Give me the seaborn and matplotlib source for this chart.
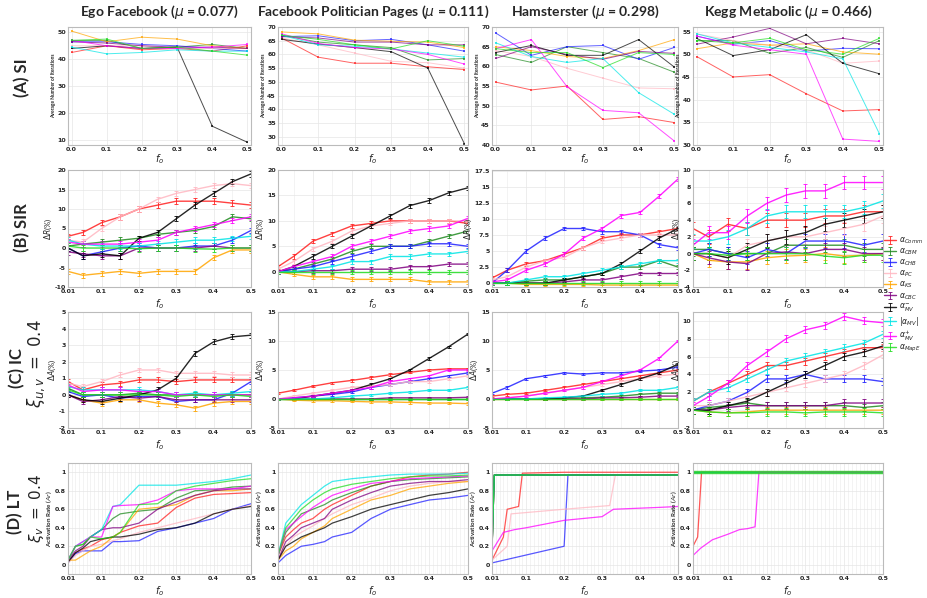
import numpy as np
import pandas as pd
import seaborn as sns
import matplotlib.pyplot as plt
from matplotlib.ticker import MultipleLocator, FuncFormatter

methods = [r"$\alpha_{Comm}$", r"$\alpha_{CBM}$", r"$\alpha_{CHB}$", r"$\alpha_{PC}$", r"$\alpha_{KS}$",
           r"$\alpha_{CBC}$", r"$\alpha_{MV}^{-}$", r"$|\alpha_{MV}|$", r"$\alpha_{MV}^{+}$", r"$\alpha_{MapE}$"]
colors = ["#ff2020", "#1f8a1f", "#2020ff", "#ffb6c1", "#ffa500",
          "#800080", "#000000", "#00e5e5", "#ff00ff", "#22dd22"]
datasets = ["Ego Facebook ($\\mu$ = 0.077)", "Facebook Politician Pages ($\\mu$ = 0.111)",
            "Hamsterster ($\\mu$ = 0.298)", "Kegg Metabolic ($\\mu$ = 0.466)"]

# (A) SI : average number of iterations, order = methods
si_x = [0.0, 0.1, 0.2, 0.3, 0.4, 0.5]
si_ego = [[42.5, 45, 43.5, 44, 43, 45], [47, 47, 44, 44.5, 45.5, 44], [46.5, 46.5, 45.5, 45, 44, 43],
          [45, 45, 45, 44, 44, 44], [50.5, 46.5, 48.2, 47.5, 45, 44], [46.5, 46, 45, 44.5, 44.5, 44],
          [44, 45, 44, 44.5, 15, 9], [44.5, 42, 42.5, 43.5, 43, 43], [47, 45, 44, 44, 44.5, 45.5],
          [47, 47.5, 44, 44.5, 43, 41.5]]
si_fpp = [[66, 59, 56.8, 56.8, 55.5, 54.5], [67, 64.5, 63.5, 62.5, 58, 58.5], [66.5, 66.8, 65, 65.5, 63.5, 61.2],
          [66, 63.5, 60.5, 57.5, 57, 55], [68.2, 67.5, 65.2, 64.8, 64.5, 62.5], [66.5, 66, 64.5, 64.5, 63.5, 63.5],
          [65.5, 63.8, 62.5, 61, 55, 27.5], [67, 63.5, 63, 62, 60.5, 59], [67.5, 64, 62.5, 62, 60, 56.5],
          [67, 65.5, 63.5, 62, 65, 63]]
si_ham = [[56, 54, 55, 46.5, 47.2, 45.7], [63, 61, 65, 63.5, 62, 58.5], [68.5, 62.8, 65, 65.3, 61.8, 64.8],
          [64, 62.5, 59.5, 57, 54.5, 54.3], [65, 64, 62.5, 62, 64, 66.8], [62, 65, 63, 61.8, 63.8, 63.3],
          [63.5, 65.3, 62.8, 62.8, 66.8, 59.8], [66, 62.5, 61, 62, 53.3, 47.8], [64.5, 66.8, 54.8, 48.8, 48.2, 41],
          [64.5, 63.5, 63.5, 59.7, 63.5, 63]]
si_kegg = [[49.5, 45, 45.5, 41.3, 37.5, 37.8], [53, 53, 50.2, 51.5, 49.3, 53], [54, 52.2, 53, 50.7, 51.3, 51.2],
           [54.5, 53, 52, 51, 48, 48.5], [51.2, 52.5, 52, 52.3, 50.5, 50], [52.2, 53.8, 55.7, 52.3, 53.5, 52.3],
           [53.5, 49.7, 51, 54.3, 48, 45.7], [54.5, 52.5, 51.5, 50.5, 49, 32.5], [54, 52, 51, 50, 31.3, 30.8],
           [53, 52.5, 53.5, 51, 50, 53.5]]

# (B) SIR and (C) IC : gain in percent
f0 = [0.01, 0.05, 0.1, 0.15, 0.2, 0.25, 0.3, 0.35, 0.4, 0.45, 0.5]
sir_ego = [[3, 4, 6.5, 8, 10, 11, 12, 12, 12, 11.5, 11], [0.5, 1, 1.5, 2, 2.5, 3.5, 4, 4.5, 5.5, 8, 7.5],
           [0, -2, -1, 0, 0.5, 0, 0, 0.5, 0.5, 2, 4.5], [2, 1.5, 5, 8, 10, 12.5, 14, 15, 16, 16.5, 16],
           [-6, -7, -6.5, -6, -6.5, -6, -6, -6, -2.5, -0.5, -0.5], [-1, -1.5, -2, -2, 0, 0, 0, 0, 0.5, 0, 0],
           [0, -2, -1.5, -2, 2.5, 4, 7.5, 11, 14, 17, 19], [2, 1, 0.5, 0.5, 0.5, 1, 1.5, 2, 2, 2.5, 3],
           [1.5, 1, 1, 1, 1.5, 2, 4, 5, 6, 7, 8], [0.5, 0, 0, 0, -0.2, 0, 0, -0.2, -0.3, 0, 0]]
sir_fpp = [[1, 3, 6, 7.5, 9, 9.5, 10, 10, 10, 10, 9.5], [0, 0.5, 1.5, 2.5, 4, 5, 5, 5, 6, 7, 8],
           [0, 0.5, 1, 2, 3, 4, 5, 5, 5.5, 5.5, 5], [0.5, 2, 4.5, 6, 8, 9, 9.5, 10, 10, 10, 10],
           [0, -0.5, -1, -1, -1.5, -1.5, -1.5, -1.5, -2, -2, -2], [0, 0, 0.2, 0.2, 0.5, 0.5, 0.5, 1, 1, 1.5, 1.5],
           [0, 1, 3, 5, 7, 9, 11, 13, 14, 15.5, 16.5], [0, 0, 0.5, 1, 2, 2, 3, 3, 3.5, 3.5, 4],
           [0, 1, 2, 3, 5, 6, 7, 8, 8.5, 9, 10.5], [0, 0, 0, 0, 0, 0, 0, 0, 0, 0, 0]]
sir_ham = [[0.8, 2, 3, 3.5, 4.5, 5.5, 7, 7.5, 7.5, 8, 8.5], [0, 0, 0.3, 0.5, 0.5, 1, 1.5, 2.5, 2.5, 3.5, 2.5],
           [0, 2, 5, 7, 8.5, 8.5, 8, 8, 7.5, 6, 5.5], [0.5, 1, 2.5, 3.5, 4, 5.5, 6.5, 7, 7.5, 7.5, 7.5],
           [0, 0, -0.2, -0.2, -0.2, -0.2, -0.3, -0.3, -0.3, -0.3, -0.3], [0, 0, 0, 0, 0.2, 0.5, 0.5, 1, 1.5, 1.5, 1.5],
           [0, 0, 0, 0, 0.5, 1, 1.5, 3, 5, 7, 8.5], [0, 0, 0.5, 1, 1, 1.5, 2, 2.5, 3, 3.5, 3.5],
           [0.2, 0.5, 2, 3, 4.5, 7, 8.5, 10.5, 11, 13.5, 16.2], [0, 0, 0, 0, 0, 0, 0, 0, 0, 0, 0]]
sir_kegg = [[3, 2, 3.5, 3, 4, 4, 4, 4.5, 4.5, 5, 5], [0.5, 0.5, 0, 0, 0, 1, 1, 1, 1, 0.5, 0.5],
            [0, 0.5, 0, -0.5, 0.5, 0, 1.5, 1.5, 1.5, 1, 1.5], [0, 0, -0.5, 1, 1.5, 2, 2, 2.5, 3, 3.5, 4.5],
            [0, -0.8, -1, -1, -0.5, -0.3, -0.2, 0, -0.3, -0.2, 0], [0, -0.5, -1, -1.2, 0, 0.2, 0, 0.5, 0.5, 0, 0],
            [0, 0, -0.5, 0.5, 1.5, 2, 2.5, 3.5, 4, 4.5, 5], [1.5, 1.5, 2, 3, 4.5, 5, 5, 5, 5, 5.5, 6.3],
            [1, 2.5, 2.5, 4.5, 6, 7, 7.5, 7.5, 8.5, 8.5, 8.5], [0, 0, -0.2, 0, 0, 0, 0, -0.3, -0.5, -0.2, -0.2]]
ic_ego = [[0.8, 0.3, 0.6, 0.7, 0.9, 0.9, 0.8, 0.9, 0.9, 0.9, 0.9], [0.4, 0, 0, 0, 0.1, 0, 0, 0, 0, 0, 0],
          [0.2, -0.1, 0, -0.2, -0.1, -0.1, -0.4, -0.3, -0.3, 0.1, 0.8], [0.7, 0.5, 0.8, 1.2, 1.5, 1.5, 1.3, 1.3, 1.3, 1.2, 1.2],
          [0, -0.3, -0.5, -0.3, -0.3, -0.5, -0.6, -0.8, -0.5, -0.4, -0.4], [0, -0.4, -0.3, -0.1, -0.2, -0.1, -0.3, -0.3, -0.3, -0.3, -0.3],
          [0, -0.3, -0.4, -0.2, 0, 0.3, 1.0, 2.5, 3.2, 3.5, 3.6], [0.5, 0.3, 0.3, 0.3, 0.3, 0.2, 0, 0.1, 0, 0.1, 0.2],
          [0.6, 0.2, 0.3, 0.3, 0.2, 0.2, 0, 0, 0, 0, 0], [0.3, 0, 0, 0, 0, 0, -0.1, 0, -0.1, 0, -0.1]]
ic_fpp = [[1, 1.5, 2.2, 2.8, 3.2, 3.7, 4.2, 4.6, 5, 5.2, 5.2], [0, 0, 0, 0, 0, 0, 0, 0, 0, 0, 0],
          [0, 0.2, 0.5, 0.8, 1.2, 2, 2.5, 3, 3.5, 4, 4.5], [0, 0.5, 1, 1.5, 2, 2.2, 2.5, 3, 3, 3.5, 4],
          [0, -0.2, -0.3, -0.3, -0.4, -0.5, -0.5, -0.6, -0.7, -0.7, -0.8], [0, 0, 0, 0, 0, 0, 0.2, 0.2, 0.2, 0.2, 0.3],
          [0, 0, 0.5, 1, 1.5, 2.5, 3.5, 5, 7, 9, 11.2], [0, 0, 0, 0.2, 0.5, 0.7, 1, 1.2, 1.5, 1.5, 2],
          [0, 0.2, 0.5, 1, 1.5, 2, 3, 3.5, 4, 5, 5], [0, 0, 0, 0, 0, 0, 0, 0, 0, 0, 0]]
ic_ham = [[0.5, 0.8, 1, 1.5, 2, 2.5, 3, 3.5, 4, 4.5, 5], [0, 0, 0, 0, 0, 0.2, 0.3, 0.5, 0.8, 1, 1],
          [1, 2, 3.5, 4, 4.5, 4.3, 4.5, 4.5, 4.8, 5, 5.5], [0, 0.2, 0.5, 1, 1.5, 2, 2.5, 3, 3.5, 4, 4.3],
          [0, 0, 0, 0, 0, 0, 0, 0, 0, 0, 0], [0, 0, 0, 0, 0, 0, 0.2, 0.2, 0.3, 0.5, 0.5],
          [0, 0, 0, 0, 0.2, 0.5, 1.5, 2.5, 3.5, 4.5, 6], [0, 0, 0, 0.2, 0.3, 0.5, 0.8, 1, 1.5, 1.5, 2],
          [0, 0.2, 0.5, 1, 1.5, 2, 3, 4, 5, 7, 10], [0, 0, 0, 0, 0, 0, 0, 0, 0, 0, 0]]
ic_kegg = [[1, 2, 3, 4, 5, 5, 5.5, 6, 6.5, 7, 7], [0, 0.3, 0.5, 0.8, 0.5, 0.5, 0.5, 0.5, 0.5, 0.3, 0.5],
           [0, 0.5, 1, 2, 3.5, 3.5, 4, 3.5, 3.5, 3.5, 3.2], [0.5, 0.5, 1, 1.5, 2, 2.5, 3, 3.5, 4, 5, 6.2],
           [0, -0.2, -0.3, -0.2, 0, 0, 0, 0, 0, 0, 0], [0, 0, 0.3, 0.5, 0.5, 0.5, 0.5, 0.5, 0.8, 0.8, 0.8],
           [0, 0, 0.5, 1, 2, 3, 4, 5, 6, 6.5, 7.2], [1, 2, 2.5, 3.5, 4.5, 5.5, 6, 6.5, 7, 7.5, 8.5],
           [0.5, 1.5, 3, 5, 6.5, 8, 9, 9.5, 10.5, 10, 9.8], [0, -0.2, -0.3, -0.3, -0.2, -0.2, -0.3, -0.2, -0.2, -0.2, -0.3]]
sir_err = [0.7, 0.4, 0.3, 0.8]
ic_err = [0.15, 0.2, 0.2, 0.4]

# (D) LT : activation rate
lt_x = [0.01, 0.03, 0.05, 0.07, 0.1, 0.13, 0.15, 0.2, 0.25, 0.3, 0.35, 0.4, 0.45, 0.5]
lt_ego = [[0.03, 0.13, 0.17, 0.2, 0.27, 0.3, 0.35, 0.42, 0.45, 0.62, 0.72, 0.76, 0.77, 0.78],
          [0.05, 0.2, 0.22, 0.3, 0.38, 0.5, 0.55, 0.58, 0.6, 0.72, 0.8, 0.81, 0.84, 0.85],
          [0.02, 0.12, 0.15, 0.15, 0.15, 0.25, 0.25, 0.26, 0.36, 0.4, 0.45, 0.5, 0.6, 0.66],
          [0.02, 0.1, 0.15, 0.2, 0.22, 0.26, 0.28, 0.35, 0.4, 0.45, 0.5, 0.55, 0.6, 0.64],
          [0.05, 0.05, 0.1, 0.15, 0.2, 0.3, 0.35, 0.6, 0.62, 0.65, 0.75, 0.8, 0.8, 0.82],
          [0.05, 0.15, 0.2, 0.3, 0.38, 0.4, 0.4, 0.45, 0.6, 0.68, 0.75, 0.8, 0.82, 0.82],
          [0.03, 0.13, 0.18, 0.25, 0.28, 0.3, 0.3, 0.33, 0.38, 0.4, 0.45, 0.55, 0.6, 0.63],
          [0.05, 0.2, 0.25, 0.3, 0.38, 0.63, 0.65, 0.86, 0.86, 0.86, 0.88, 0.9, 0.93, 0.97],
          [0.05, 0.2, 0.25, 0.3, 0.3, 0.63, 0.64, 0.65, 0.7, 0.8, 0.82, 0.82, 0.82, 0.85],
          [0.05, 0.2, 0.22, 0.3, 0.28, 0.3, 0.35, 0.65, 0.66, 0.8, 0.85, 0.88, 0.91, 0.93]]
lt_fpp = [[0.1, 0.3, 0.38, 0.45, 0.5, 0.6, 0.65, 0.75, 0.85, 0.9, 0.95, 0.97, 0.98, 1.0],
          [0.1, 0.35, 0.45, 0.55, 0.6, 0.65, 0.7, 0.78, 0.85, 0.9, 0.92, 0.93, 0.94, 0.95],
          [0.02, 0.1, 0.15, 0.2, 0.22, 0.25, 0.3, 0.35, 0.5, 0.6, 0.65, 0.7, 0.72, 0.75],
          [0.05, 0.2, 0.3, 0.35, 0.42, 0.5, 0.55, 0.65, 0.72, 0.8, 0.85, 0.88, 0.9, 0.9],
          [0.05, 0.15, 0.2, 0.28, 0.35, 0.42, 0.5, 0.6, 0.7, 0.75, 0.82, 0.85, 0.88, 0.9],
          [0.05, 0.25, 0.32, 0.4, 0.45, 0.5, 0.6, 0.7, 0.78, 0.85, 0.88, 0.9, 0.9, 0.92],
          [0.05, 0.2, 0.25, 0.3, 0.35, 0.4, 0.45, 0.52, 0.6, 0.65, 0.7, 0.75, 0.78, 0.82],
          [0.1, 0.45, 0.55, 0.65, 0.75, 0.85, 0.9, 0.93, 0.95, 0.97, 0.98, 0.98, 0.98, 0.99],
          [0.1, 0.38, 0.45, 0.52, 0.62, 0.7, 0.75, 0.82, 0.88, 0.9, 0.93, 0.94, 0.95, 0.96],
          [0.1, 0.4, 0.5, 0.6, 0.7, 0.78, 0.82, 0.87, 0.9, 0.93, 0.95, 0.96, 0.96, 0.97]]
# sharp jumps: own x per series
lt_ham_x = [[0.01, 0.04, 0.05, 0.08, 0.09, 0.2, 0.5], [0.01, 0.016, 0.5], [0.01, 0.2, 0.21, 0.5],
            [0.01, 0.05, 0.06, 0.2, 0.32, 0.335, 0.5], [0.01, 0.016, 0.5], [0.01, 0.016, 0.5],
            [0.01, 0.016, 0.5], [0.01, 0.016, 0.5],
            [0.01, 0.04, 0.07, 0.1, 0.2, 0.3, 0.33, 0.45, 0.5], [0.01, 0.016, 0.5]]
lt_ham_y = [[0.05, 0.3, 0.6, 0.63, 0.99, 1.0, 1.0], [0.15, 0.97, 0.97], [0.02, 0.2, 0.97, 0.97],
            [0.05, 0.2, 0.55, 0.6, 0.64, 0.97, 0.97], [0.15, 0.97, 0.97], [0.15, 0.97, 0.97],
            [0.15, 0.97, 0.97], [0.15, 0.97, 0.97],
            [0.15, 0.35, 0.38, 0.4, 0.48, 0.52, 0.6, 0.62, 0.63], [0.15, 0.97, 0.97]]
lt_kegg_x = [[0.01, 0.022, 0.032, 0.5], [0.01, 0.5], [0.01, 0.5], [0.01, 0.5], [0.01, 0.5],
             [0.01, 0.5], [0.01, 0.5], [0.01, 0.5],
             [0.01, 0.03, 0.06, 0.1, 0.13, 0.15, 0.17, 0.18, 0.5], [0.01, 0.5]]
lt_kegg_y = [[0.2, 0.3, 1.0, 1.0], [1, 1], [1, 1], [1, 1], [1, 1], [1, 1], [1, 1], [1, 1],
             [0.1, 0.18, 0.27, 0.33, 0.38, 0.39, 0.41, 1.0, 1.0], [1, 1]]

si_ylim = [(8, 52), (27, 70), (40, 70), (30, 56)]
si_yticks = [range(10, 51, 10), range(30, 71, 5), range(40, 71, 5), range(30, 56, 5)]
sir_ylim = [(-10, 20), (-3, 20), (-0.6, 17.6), (-4, 10)]
sir_yticks = [range(-10, 21, 5), range(0, 21, 5), np.arange(0, 17.6, 2.5), range(-4, 11, 2)]
ic_ylim = [(-2, 5), (-5, 15), (-5, 15), (-2, 11)]
ic_yticks = [range(-2, 6, 1), range(-5, 16, 5), range(-5, 16, 5), range(-2, 11, 2)]

sns.set_theme(style="whitegrid")
plt.rcParams["font.family"] = ["Lato", "DejaVu Sans"]
fig = plt.figure(figsize=(9.28, 5.98), dpi=100)
W, H = 928, 598
col_x = [(68, 251), (278, 468), (492, 678), (693, 883)]
row_y = [(27, 145), (170, 287), (312, 428), (463, 574)]


def make_ax(r, c):
    x0, x1 = col_x[c]
    y0, y1 = row_y[r]
    ax = fig.add_axes([x0 / W, 1 - y1 / H, (x1 - x0) / W, (y1 - y0) / H])
    for s in ax.spines.values():
        s.set_color("#bbbbbb")
        s.set_linewidth(0.8)
    ax.grid(True, color="#e6e6e6", linewidth=0.5)
    return ax


def finish(ax):
    ax.tick_params(labelsize=4.5, pad=1.5, length=0)
    for lab in ax.get_xticklabels() + ax.get_yticklabels():
        lab.set_fontweight("bold")
        lab.set_family("DejaVu Sans")
    ax.set_xlabel("$f_o$", fontsize=7, labelpad=0)


def long_frame(x, series):
    rows = []
    for m, ys in zip(methods, series):
        for xv, yv in zip(x, ys):
            rows.append((m, xv, yv))
    return pd.DataFrame(rows, columns=["method", "f0", "value"])


def fmt(v, p):
    return "%g" % v


pal = dict(zip(methods, colors))
si_all = [si_ego, si_fpp, si_ham, si_kegg]
sir_all = [sir_ego, sir_fpp, sir_ham, sir_kegg]
ic_all = [ic_ego, ic_fpp, ic_ham, ic_kegg]
lt_all = [lt_ego, lt_fpp]
handles = []

for c in range(4):
    # row A
    ax = make_ax(0, c)
    df = long_frame(si_x, si_all[c])
    sns.lineplot(data=df, x="f0", y="value", hue="method", palette=pal, marker="s", markersize=2,
                 markeredgewidth=0, linewidth=0.7, alpha=0.7, legend=False, ax=ax)
    ax.set_xlim(-0.01, 0.51)
    ax.set_ylim(*si_ylim[c])
    ax.set_yticks(list(si_yticks[c]))
    ax.set_xticks(si_x)
    ax.xaxis.set_major_formatter(FuncFormatter(lambda v, p: "%.1f" % v))
    ax.set_ylabel("Average Number of Iterations", fontsize=3.5, fontweight="bold", labelpad=1)
    ax.set_title(datasets[c], fontsize=10, fontweight="bold", pad=8)
    finish(ax)

    # rows B and C
    for r, data, errs, ylim, yt, yl in [(1, sir_all[c], sir_err, sir_ylim, sir_yticks, r"$\Delta R$(%)"),
                                        (2, ic_all[c], ic_err, ic_ylim, ic_yticks, r"$\Delta A$(%)")]:
        ax = make_ax(r, c)
        for m, col, ys in zip(methods, colors, data):
            h = ax.errorbar(f0, ys, yerr=errs[c], color=col, linewidth=1.0, elinewidth=0.7,
                            capsize=1.5, capthick=0.7, alpha=0.85, label=m)
            if r == 1 and c == 0:
                handles.append(h)
        ax.set_xlim(0.01, 0.5)
        ax.set_ylim(*ylim[c])
        ax.set_yticks(list(yt[c]))
        ax.yaxis.set_major_formatter(FuncFormatter(fmt))
        ax.set_xticks([0.01, 0.1, 0.2, 0.3, 0.4, 0.5])
        ax.xaxis.set_minor_locator(MultipleLocator(0.05))
        ax.grid(True, which="minor", color="#eeeeee", linewidth=0.5)
        ax.xaxis.set_major_formatter(FuncFormatter(fmt))
        ax.set_ylabel(yl, fontsize=5.5, labelpad=0.5)
        finish(ax)

    # row D
    ax = make_ax(3, c)
    if c < 2:
        df = long_frame(lt_x, lt_all[c])
        sns.lineplot(data=df, x="f0", y="value", hue="method", palette=pal, linewidth=0.9,
                     alpha=0.75, legend=False, ax=ax)
    else:
        xs_all, ys_all = (lt_ham_x, lt_ham_y) if c == 2 else (lt_kegg_x, lt_kegg_y)
        for m, col, xs, ys in zip(methods, colors, xs_all, ys_all):
            lw = 2.5 if (c == 3 and m == methods[9]) else 0.9
            sns.lineplot(x=xs, y=ys, color=col, linewidth=lw, alpha=0.75, ax=ax)
    ax.set_xlim(0.01, 0.5)
    ax.set_ylim(-0.1, 1.1)
    ax.set_yticks([0, 0.2, 0.4, 0.6, 0.8, 1.0])
    ax.yaxis.set_major_formatter(FuncFormatter(fmt))
    ax.set_xticks([0.01, 0.1, 0.2, 0.3, 0.4, 0.5])
    ax.xaxis.set_minor_locator(MultipleLocator(0.01))
    ax.grid(True, which="minor", color="#eeeeee", linewidth=0.5)
    ax.xaxis.set_major_formatter(FuncFormatter(fmt))
    ax.set_ylabel("Activation Rate ($Ar$)", fontsize=4.5, fontweight="bold", labelpad=0.5)
    finish(ax)

fig.legend(handles, methods, loc="center left", bbox_to_anchor=(884 / W, 1 - 295 / H),
           frameon=False, fontsize=5.5, handlelength=1.6, handletextpad=0.3, labelspacing=0.08,
           borderaxespad=0, borderpad=0)

fig.text(22 / W, 1 - 78 / H, "(A) SI", rotation=90, fontsize=12, fontweight="bold", ha="center", va="center")
fig.text(22 / W, 1 - 228 / H, "(B) SIR", rotation=90, fontsize=12, fontweight="bold", ha="center", va="center")
fig.text(17 / W, 1 - 368 / H, "(C) IC", rotation=90, fontsize=12, fontweight="bold", ha="center", va="center")
fig.text(36 / W, 1 - 364 / H, r"$\xi_{u,v}\ =\ 0.4$", rotation=90, fontsize=12, ha="center", va="center")
fig.text(15 / W, 1 - 512 / H, "(D) LT", rotation=90, fontsize=12, fontweight="bold", ha="center", va="center")
fig.text(36 / W, 1 - 508 / H, r"$\xi_v\ =\ 0.4$", rotation=90, fontsize=11, ha="center", va="center")

fig.savefig("out.png", dpi=100)
